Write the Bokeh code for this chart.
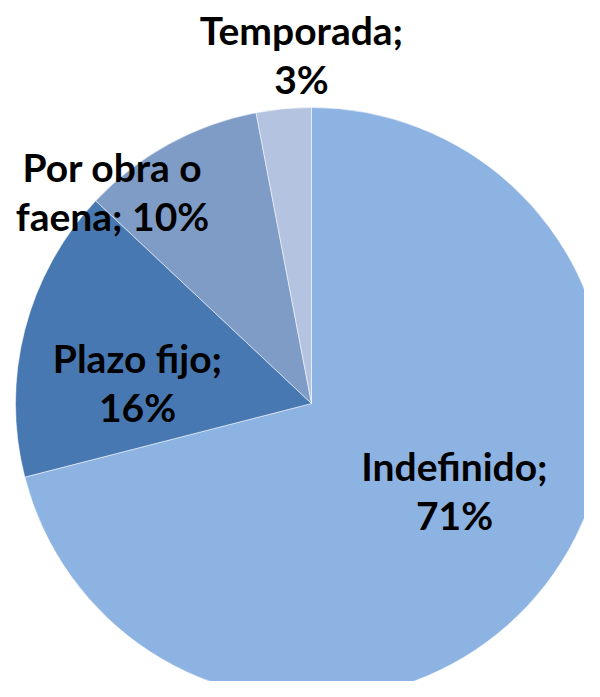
import math
import textwrap
from bokeh.plotting import figure
from bokeh.models import ColumnDataSource, Range1d
from bokeh.core.properties import value
from bokeh.embed import file_html
from bokeh.resources import INLINE

# ---- data ----
categories = ["Indefinido", "Plazo fijo", "Por obra o faena", "Temporada"]
shares = [71, 16, 10, 3]
colors = ["#8DB3E2", "#4878B2", "#7F9CC7", "#B4C4E0"]

# ---- layout (reference pixel space, y measured downward) ----
W, H = 584, 681
OFF = 0
cx_px, cy_px, r_px = 311, 403, 296
label_px = [(454, 490), (137, 382), (112, 191), (301, 54)]

def to_data(x, y):
    return x, 697 - y

total = sum(shares)
starts, ends = [], []
cum = 0
for v in shares:
    starts.append(math.pi / 2 - 2 * math.pi * cum / total)
    cum += v
    ends.append(math.pi / 2 - 2 * math.pi * cum / total)

cx, cy = to_data(cx_px, cy_px)
src = ColumnDataSource(dict(x=[cx] * len(shares), y=[cy] * len(shares),
                            start=starts, end=ends, color=colors))

labels = [textwrap.fill(f"{c}; {v}%", width=11) for c, v in zip(categories, shares)]
lx = [to_data(x, y)[0] for x, y in label_px]
ly = [to_data(x, y)[1] for x, y in label_px]
lsrc = ColumnDataSource(dict(x=lx, y=ly, text=labels))

p = figure(width=W, height=H, output_backend="svg", toolbar_location=None,
           x_range=Range1d(OFF, OFF + W), y_range=Range1d(697 - OFF - H, 697 - OFF),
           min_border=0)
p.axis.visible = False
p.grid.visible = False
p.outline_line_color = None
p.background_fill_color = "white"

p.wedge(x="x", y="y", radius=r_px, start_angle="start", end_angle="end",
        direction="clock", fill_color="color", line_color="white", line_width=0.5,
        source=src)

p.text(x="x", y="y", text="text", source=lsrc, text_align="center",
       text_baseline="middle", text_font=value("Lato"), text_font_style="bold",
       text_font_size="39px", text_line_height=1.05, text_color="black")

open("out.html", "w").write(file_html(p, INLINE))
